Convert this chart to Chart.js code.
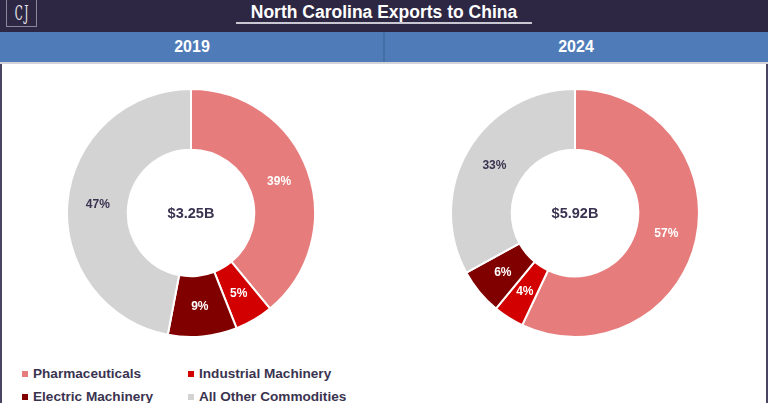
<!DOCTYPE html>
<html>
<head>
<meta charset="utf-8">
<script src="https://cdn.jsdelivr.net/npm/chart.js@4.4.0/dist/chart.umd.min.js"></script>
<style>
  html, body { margin: 0; padding: 0; background: #fff; }
  body { width: 768px; height: 403px; position: relative; overflow: hidden; font-family: "Liberation Sans", Arial, sans-serif; }
  .topbar { position: absolute; left: 0; top: 0; width: 768px; height: 32px; background: #2e2743; }
  .logo { position: absolute; left: 6px; top: -1px; width: 29px; height: 26px; border: 1px solid #8d879b; color: #e6e4ea;
          font-family: "DejaVu Serif", serif; font-size: 21px; line-height: 26px; text-align: center; font-weight: 300; }
  .logo span { display: inline-block; transform: scaleX(0.5); letter-spacing: 3px; }
  .title { position: absolute; left: 0; top: 2px; width: 768px; text-align: center; color: #fff; font-size: 17.5px; font-weight: bold; }
  .uline { position: absolute; left: 236px; top: 22px; width: 296px; height: 2px; background: #c9c7d2; }
  .band { position: absolute; left: 0; top: 32px; width: 768px; height: 30px; background: #4f7cb9; border-bottom: 2px solid #d4d4d8; }
  .divider { position: absolute; left: 383px; top: 32px; width: 2px; height: 30px; background: #456da6; }
  .year { position: absolute; top: 38px; width: 384px; text-align: center; color: #fff; font-size: 16px; font-weight: bold; }
  .edge { position: absolute; top: 64px; width: 2px; height: 339px; background: #4a4560; }
  .donut { position: absolute; width: 250px; height: 250px; }
  .legend { position: absolute; font-size: 13.6px; font-weight: bold; color: #3a3350; white-space: nowrap; }
  .legend i { position: absolute; left: -11px; top: 5px; width: 6px; height: 6px; }
</style>
</head>
<body>
<div class="topbar"></div>
<div class="logo"><span>CJ</span></div>
<div class="title">North Carolina Exports to China</div>
<div class="uline"></div>
<div class="band"></div>
<div class="divider"></div>
<div class="year" id="y0" style="left:0"></div>
<div class="year" id="y1" style="left:384px"></div>
<div class="edge" style="left:0"></div>
<div class="edge" style="left:766px"></div>
<div class="donut" style="left:66px; top:88px"><canvas id="chart2019"></canvas></div>
<div class="donut" style="left:450px; top:88px"><canvas id="chart2024"></canvas></div>
<div id="legendBox"></div>

<script>
const years = ['2019', '2024'];
const categories = ['Pharmaceuticals', 'Industrial Machinery', 'Electric Machinery', 'All Other Commodities'];
const shares2019 = [39, 5, 9, 47];
const shares2024 = [57, 4, 6, 33];
const totals = ['$3.25B', '$5.92B'];
const colors = ['#e67d7c', '#d20000', '#800000', '#d3d3d3'];
const labelColors = ['#ffffff', '#ffffff', '#ffffff', '#3a3350'];

document.getElementById('y0').textContent = years[0];
document.getElementById('y1').textContent = years[1];

// percent labels on the slices + total in the hole
const donutText = {
  id: 'donutText',
  afterDatasetsDraw(chart, args, opts) {
    const ctx = chart.ctx;
    const meta = chart.getDatasetMeta(0);
    ctx.save();
    ctx.textAlign = 'center';
    ctx.textBaseline = 'middle';
    ctx.font = 'bold 12px "Liberation Sans", Arial, sans-serif';
    meta.data.forEach((arc, i) => {
      const p = arc.getCenterPoint();
      ctx.fillStyle = labelColors[i];
      ctx.fillText(chart.data.datasets[0].data[i] + '%', p.x, p.y);
    });
    const c = meta.data[0];
    ctx.fillStyle = '#3a3350';
    ctx.font = 'bold 14.5px "Liberation Sans", Arial, sans-serif';
    ctx.fillText(opts.total, c.x, c.y + 1);
    ctx.restore();
  }
};

function makeDonut(id, data, total) {
  return new Chart(document.getElementById(id), {
    type: 'doughnut',
    data: {
      labels: categories,
      datasets: [{
        data: data,
        backgroundColor: colors,
        borderColor: '#ffffff',
        borderWidth: 2
      }]
    },
    options: {
      responsive: true,
      maintainAspectRatio: false,
      animation: false,
      cutout: '51%',
      layout: { padding: 0 },
      plugins: {
        legend: { display: false },
        tooltip: { enabled: false },
        donutText: { total: total }
      }
    },
    plugins: [donutText]
  });
}

makeDonut('chart2019', shares2019, totals[0]);
makeDonut('chart2024', shares2024, totals[1]);

// legend in two columns
const legendPos = [[33, 366], [199, 366], [33, 389], [199, 389]];
const box = document.getElementById('legendBox');
categories.forEach((name, i) => {
  const d = document.createElement('div');
  d.className = 'legend';
  d.style.left = legendPos[i][0] + 'px';
  d.style.top = legendPos[i][1] + 'px';
  d.innerHTML = '<i style="background:' + colors[i] + '"></i>' + name;
  box.appendChild(d);
});
</script>
</body>
</html>
